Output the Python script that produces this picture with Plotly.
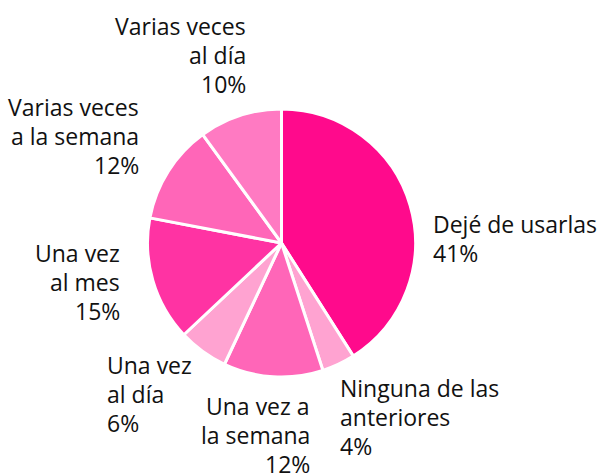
import plotly.graph_objects as go

labels = ["Dejé de usarlas", "Ninguna de las anteriores", "Una vez a la semana",
          "Una vez al día", "Una vez al mes", "Varias veces a la semana", "Varias veces al día"]
label_lines = [["Dejé de usarlas"], ["Ninguna de las", "anteriores"], ["Una vez a", "la semana"],
               ["Una vez", "al día"], ["Una vez", "al mes"], ["Varias veces", "a la semana"],
               ["Varias veces", "al día"]]
values = [41, 4, 12, 6, 15, 12, 10]

# styling / layout (not data)
colors = ["#FF0A8C", "#FFA3D1", "#FF66B8", "#FFA3D1", "#FF33A3", "#FF66B8", "#FF7AC2"]
W, H = 598, 475
# label block anchor in page px: (x, first-line center y, horizontal anchor)
label_anchor = [(431, 224, "left"), (338, 388, "left"), (312, 406, "right"),
                (105, 365, "left"), (122, 253, "right"), (141, 107, "right"),
                (248, 26, "right")]
LINE_GAP = 29


def px(x):
    return x / W


def py(y):
    return 1 - y / H


fig = go.Figure(go.Pie(
    labels=labels, values=values, textinfo="none",
    sort=False, direction="clockwise", rotation=0,
    marker=dict(colors=colors, line=dict(color="white", width=3)),
    domain=dict(x=[px(147), px(416)], y=[py(377), py(109)]),
    showlegend=False, hoverinfo="label+percent",
))

annotations = []
for lines, v, (ax, ay, anc) in zip(label_lines, values, label_anchor):
    for i, t in enumerate(lines + [f"{v}%"]):
        annotations.append(dict(
            text=t, x=px(ax), y=py(ay + i * LINE_GAP), xref="paper", yref="paper",
            xanchor=anc, yanchor="middle", showarrow=False,
            font=dict(family="Open Sans", size=23, color="#111111"),
        ))

fig.update_layout(width=W, height=H, margin=dict(l=0, r=0, t=0, b=0),
                  paper_bgcolor="white", plot_bgcolor="white", annotations=annotations)
fig.write_html("out.html", config={"displayModeBar": False},
               post_script="document.body.style.margin='0';document.body.style.overflow='hidden';")
